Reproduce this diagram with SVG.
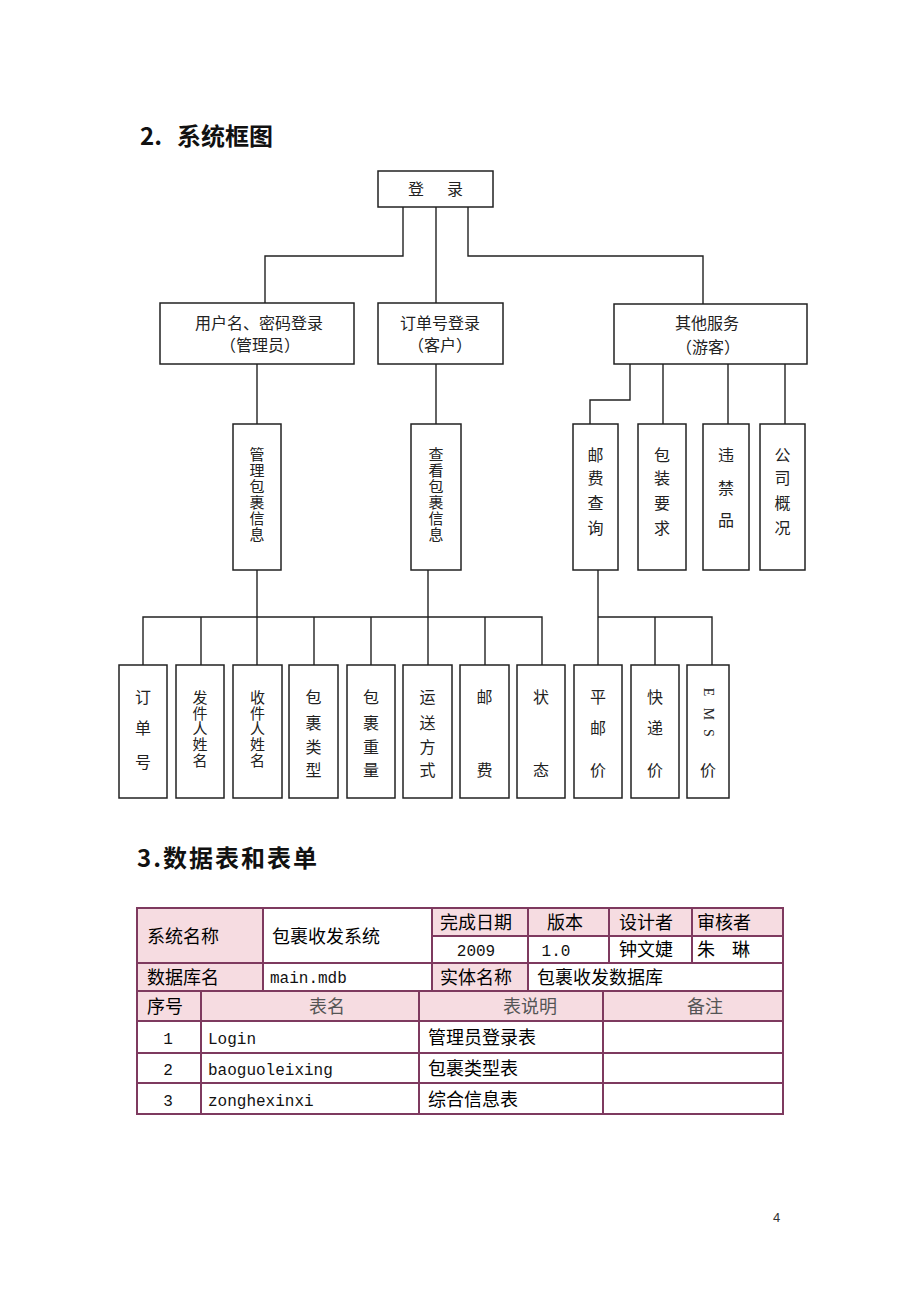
<svg xmlns="http://www.w3.org/2000/svg" width="920" height="1302" viewBox="0 0 920 1302">
<style>
.bg{fill:#ffffff}
.box{fill:#ffffff;stroke:#222;stroke-width:1.5}
.ln{fill:none;stroke:#222;stroke-width:1.4}
.t{font-family:"Noto Sans CJK SC","Noto Sans",sans-serif;font-size:16px;fill:#222;text-anchor:middle}
.v{font-family:"Noto Sans CJK SC","Noto Sans",sans-serif;font-size:15px;fill:#222;writing-mode:vertical-rl;text-anchor:start}
.ems{font-family:"Liberation Serif",serif;font-size:14px;fill:#222;text-anchor:middle;dominant-baseline:central}
.h{font-family:"Noto Sans CJK SC","Noto Sans",sans-serif;font-size:24px;font-weight:bold;fill:#111}
.pk{fill:#f6dce1;stroke:#7e3a5f;stroke-width:2}
.wc{fill:#ffffff;stroke:#7e3a5f;stroke-width:2}
.tt{font-family:"Noto Sans CJK SC","Noto Sans",sans-serif;font-size:18px;fill:#000}
.tl{font-family:"Noto Sans CJK SC","Noto Sans",sans-serif;font-size:18px;fill:#555;text-anchor:middle}
.mono{font-family:"Liberation Mono","Noto Sans CJK SC",monospace;font-size:16px;fill:#111}
.pg{font-family:"Liberation Sans",sans-serif;font-size:13px;fill:#333}
</style>
<rect class="bg" x="0" y="0" width="920" height="1302"/>

<g id="title2">
<text class="h" x="140" y="145">2.</text>
<text class="h" x="177" y="145">系统框图</text>
</g>

<g id="connectors">
<polyline class="ln" points="403,207 403,256 265,256 265,303"/>
<polyline class="ln" points="436,207 436,303"/>
<polyline class="ln" points="468,207 468,256 703,256 703,304"/>
<polyline class="ln" points="257,364 257,424"/>
<polyline class="ln" points="436,364 436,424"/>
<polyline class="ln" points="630,364 630,400 590,400 590,424"/>
<polyline class="ln" points="663,364 663,424"/>
<polyline class="ln" points="728,364 728,424"/>
<polyline class="ln" points="785,364 785,424"/>
<polyline class="ln" points="257,570 257,617"/>
<polyline class="ln" points="428,570 428,617"/>
<polyline class="ln" points="143,665 143,617 542,617 542,665"/>
<polyline class="ln" points="201,617 201,665"/>
<polyline class="ln" points="257,617 257,665"/>
<polyline class="ln" points="314,617 314,665"/>
<polyline class="ln" points="371,617 371,665"/>
<polyline class="ln" points="428,617 428,665"/>
<polyline class="ln" points="485,617 485,665"/>
<polyline class="ln" points="598,570 598,665"/>
<polyline class="ln" points="598,617 712,617 712,665"/>
<polyline class="ln" points="655,617 655,665"/>
</g>

<g id="n-login">
<rect class="box" x="378" y="171" width="115" height="36"/>
<text class="t" x="416" y="195">登</text>
<text class="t" x="455" y="195">录</text>
</g>

<g id="n-admin">
<rect class="box" x="160" y="303" width="194" height="61"/>
<text class="t" x="259" y="329">用户名、密码登录</text>
<text class="t" x="260" y="351">（管理员）</text>
</g>

<g id="n-order">
<rect class="box" x="378" y="303" width="125" height="61"/>
<text class="t" x="440" y="329">订单号登录</text>
<text class="t" x="440" y="351">（客户）</text>
</g>

<g id="n-other">
<rect class="box" x="614" y="304" width="193" height="60"/>
<text class="t" x="707" y="329">其他服务</text>
<text class="t" x="708" y="353">（游客）</text>
</g>

<g id="n-manage">
<rect class="box" x="233" y="424" width="48" height="146"/>
<text class="v" x="257" y="447" letter-spacing="1">管理包裹信息</text>
</g>

<g id="n-view">
<rect class="box" x="411" y="424" width="50" height="146"/>
<text class="v" x="436" y="447" letter-spacing="1">查看包裹信息</text>
</g>

<g id="n-postage">
<rect class="box" x="573" y="424" width="45" height="146"/>
<text class="t" x="595.5" y="461">邮</text><text class="t" x="595.5" y="484">费</text><text class="t" x="595.5" y="509">查</text><text class="t" x="595.5" y="534">询</text>
</g>

<g id="n-pack">
<rect class="box" x="638" y="424" width="48" height="146"/>
<text class="t" x="662" y="461">包</text><text class="t" x="662" y="484">装</text><text class="t" x="662" y="509">要</text><text class="t" x="662" y="534">求</text>
</g>

<g id="n-banned">
<rect class="box" x="703" y="424" width="46" height="146"/>
<text class="t" x="726" y="461">违</text><text class="t" x="726" y="494">禁</text><text class="t" x="726" y="526">品</text>
</g>

<g id="n-company">
<rect class="box" x="760" y="424" width="45" height="146"/>
<text class="t" x="782.5" y="461">公</text><text class="t" x="782.5" y="484">司</text><text class="t" x="782.5" y="509">概</text><text class="t" x="782.5" y="534">况</text>
</g>

<g id="n-orderno">
<rect class="box" x="119" y="665" width="48" height="133"/>
<text class="t" x="143" y="703">订</text><text class="t" x="143" y="734">单</text><text class="t" x="143" y="768">号</text>
</g>

<g id="n-sender">
<rect class="box" x="176" y="665" width="48" height="133"/>
<text class="v" x="200" y="690" letter-spacing="0.6">发件人姓名</text>
</g>

<g id="n-receiver">
<rect class="box" x="233" y="665" width="49" height="133"/>
<text class="v" x="257.5" y="690" letter-spacing="0.6">收件人姓名</text>
</g>

<g id="n-type">
<rect class="box" x="289" y="665" width="49" height="133"/>
<text class="t" x="313.5" y="703">包</text><text class="t" x="313.5" y="729">裹</text><text class="t" x="313.5" y="753">类</text><text class="t" x="313.5" y="776">型</text>
</g>

<g id="n-weight">
<rect class="box" x="347" y="665" width="48" height="133"/>
<text class="t" x="371" y="703">包</text><text class="t" x="371" y="729">裹</text><text class="t" x="371" y="753">重</text><text class="t" x="371" y="776">量</text>
</g>

<g id="n-ship">
<rect class="box" x="403" y="665" width="49" height="133"/>
<text class="t" x="427.5" y="703">运</text><text class="t" x="427.5" y="729">送</text><text class="t" x="427.5" y="753">方</text><text class="t" x="427.5" y="776">式</text>
</g>

<g id="n-fee">
<rect class="box" x="460" y="665" width="49" height="133"/>
<text class="t" x="484.5" y="703">邮</text><text class="t" x="484.5" y="776">费</text>
</g>

<g id="n-status">
<rect class="box" x="517" y="665" width="48" height="133"/>
<text class="t" x="541" y="703">状</text><text class="t" x="541" y="776">态</text>
</g>

<g id="n-regular">
<rect class="box" x="574" y="665" width="48" height="133"/>
<text class="t" x="598" y="703">平</text><text class="t" x="598" y="734">邮</text><text class="t" x="598" y="776">价</text>
</g>

<g id="n-express">
<rect class="box" x="631" y="665" width="48" height="133"/>
<text class="t" x="655" y="703">快</text><text class="t" x="655" y="734">递</text><text class="t" x="655" y="776">价</text>
</g>

<g id="n-ems">
<rect class="box" x="687" y="665" width="42" height="133"/>
<text class="ems" x="708" y="692" transform="rotate(90 708 692)">E</text>
<text class="ems" x="708" y="714" transform="rotate(90 708 714)">M</text>
<text class="ems" x="708" y="733" transform="rotate(90 708 733)">S</text>
<text class="t" x="708" y="776">价</text>
</g>

<g id="title3">
<text class="h" x="137" y="867" font-size="27" letter-spacing="2">3.数据表和表单</text>
</g>

<g id="table">
<rect class="pk" x="137" y="908" width="126" height="55"/>
<rect class="wc" x="263" y="908" width="169" height="55"/>
<rect class="pk" x="432" y="908" width="96" height="28"/>
<rect class="pk" x="528" y="908" width="81" height="28"/>
<rect class="pk" x="609" y="908" width="83" height="28"/>
<rect class="pk" x="692" y="908" width="91" height="28"/>
<rect class="wc" x="432" y="936" width="96" height="27"/>
<rect class="wc" x="528" y="936" width="81" height="27"/>
<rect class="wc" x="609" y="936" width="83" height="27"/>
<rect class="wc" x="692" y="936" width="91" height="27"/>
<rect class="pk" x="137" y="963" width="126" height="28"/>
<rect class="wc" x="263" y="963" width="169" height="28"/>
<rect class="pk" x="432" y="963" width="96" height="28"/>
<rect class="wc" x="528" y="963" width="255" height="28"/>
<rect class="pk" x="137" y="991" width="64" height="30"/>
<rect class="pk" x="201" y="991" width="218" height="30"/>
<rect class="pk" x="419" y="991" width="184" height="30"/>
<rect class="pk" x="603" y="991" width="180" height="30"/>
<rect class="wc" x="137" y="1021" width="64" height="32"/>
<rect class="wc" x="201" y="1021" width="218" height="32"/>
<rect class="wc" x="419" y="1021" width="184" height="32"/>
<rect class="wc" x="603" y="1021" width="180" height="32"/>
<rect class="wc" x="137" y="1053" width="64" height="30"/>
<rect class="wc" x="201" y="1053" width="218" height="30"/>
<rect class="wc" x="419" y="1053" width="184" height="30"/>
<rect class="wc" x="603" y="1053" width="180" height="30"/>
<rect class="wc" x="137" y="1083" width="64" height="31"/>
<rect class="wc" x="201" y="1083" width="218" height="31"/>
<rect class="wc" x="419" y="1083" width="184" height="31"/>
<rect class="wc" x="603" y="1083" width="180" height="31"/>

<text class="tt" x="147" y="943">系统名称</text>
<text class="tt" x="272" y="943">包裹收发系统</text>
<text class="tt" x="440" y="929">完成日期</text>
<text class="tt" x="547" y="929">版本</text>
<text class="tt" x="619" y="929">设计者</text>
<text class="tt" x="697" y="929">审核者</text>
<text class="mono" x="476" y="956" text-anchor="middle" font-size="17">2009</text>
<text class="mono" x="556" y="956" text-anchor="middle" font-size="17">1.0</text>
<text class="tt" x="619" y="956">钟文婕</text>
<text class="tt" x="697" y="956">朱</text>
<text class="tt" x="732" y="956">琳</text>
<text class="tt" x="147" y="984">数据库名</text>
<text class="mono" x="270" y="983">main.mdb</text>
<text class="tt" x="440" y="984">实体名称</text>
<text class="tt" x="537" y="984">包裹收发数据库</text>
<text class="tt" x="147" y="1013">序号</text>
<text class="tl" x="327" y="1013">表名</text>
<text class="tl" x="530" y="1013">表说明</text>
<text class="tl" x="705" y="1013">备注</text>
<text class="mono" x="168" y="1044" text-anchor="middle" font-size="17">1</text>
<text class="mono" x="208" y="1044">Login</text>
<text class="tt" x="428" y="1044">管理员登录表</text>
<text class="mono" x="168" y="1075" text-anchor="middle" font-size="17">2</text>
<text class="mono" x="208" y="1075">baoguoleixing</text>
<text class="tt" x="428" y="1075">包裹类型表</text>
<text class="mono" x="168" y="1106" text-anchor="middle" font-size="17">3</text>
<text class="mono" x="208" y="1106">zonghexinxi</text>
<text class="tt" x="428" y="1106">综合信息表</text>
</g>

<g id="pagenum">
<text class="pg" x="773" y="1222">4</text>
</g>
</svg>
